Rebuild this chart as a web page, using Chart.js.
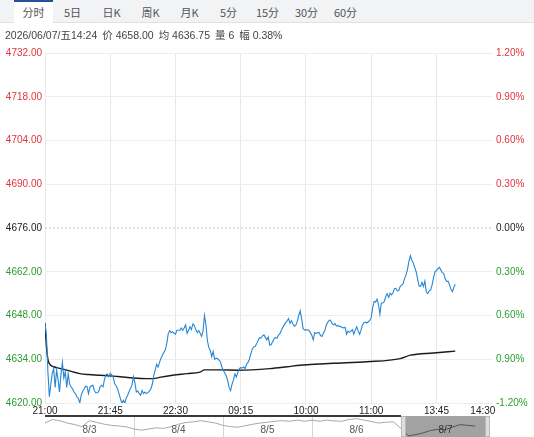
<!DOCTYPE html>
<html>
<head>
<meta charset="utf-8">
<script src="https://cdn.jsdelivr.net/npm/chart.js@4.4.1/dist/chart.umd.min.js"></script>
<style>
  body { margin: 0; width: 534px; height: 437px; overflow: hidden; background: #fff; font-family: "Liberation Sans", "Noto Sans CJK SC", sans-serif; }
  #tabs { position: absolute; left: 0; top: 0; width: 534px; height: 22px; background: #f2f3f5; border-bottom: 1px solid #dfe1e5; z-index: 2; }
  #tabs span { position: absolute; top: 0; width: 39px; height: 22px; line-height: 24px; text-align: center; font-size: 11px; color: #555; font-family: "Noto Sans CJK SC", sans-serif; }
  #tabs span.on { background: #fff; border-top: 2px solid #2a4f9a; height: 21px; line-height: 21px; }
  #info { position: absolute; left: 5px; top: 27px; font-size: 10.5px; color: #444; white-space: nowrap; z-index: 2; font-family: "Liberation Sans", "Noto Sans CJK SC", sans-serif; }
  #info span { margin-right: 5px; }
  #main { position: absolute; left: 0; top: 0; }
  #nav { position: absolute; left: 0; top: 414px; z-index: 3; }
</style>
</head>
<body>
<div id="tabs"></div>
<div id="info"></div>
<canvas id="main" width="534" height="437"></canvas>
<canvas id="nav" width="534" height="23"></canvas>
<script>
// header
const tabNames = ['分时', '5日', '日K', '周K', '月K', '5分', '15分', '30分', '60分'];
const infoParts = ['2026/06/07/五14:24', '价 4658.00', '均 4636.75', '量 6', '幅 0.38%'];

// main chart data (minutes since 21:00, trading time)
const prevClose = 4676;
const priceTicks = [4620, 4634, 4648, 4662, 4676, 4690, 4704, 4718, 4732];
const pctLabels = ['-1.20%', '0.90%', '0.60%', '0.30%', '0.00%', '0.30%', '0.60%', '0.90%', '1.20%'];
const timeTicks = [0, 45, 90, 135, 180, 225, 270, 302];
const timeLabels = ['21:00', '21:45', '22:30', '09:15', '10:00', '11:00', '13:45', '14:30'];
const xMax = 309;

const price = [
    4645.5, 4641.5, 4630, 4622, 4626, 4629.5, 4631, 4625, 4630.5, 4627.5,
    4623.5, 4629, 4633, 4628, 4630, 4625, 4629.4, 4626, 4625.2, 4624.5,
    4623.5, 4623, 4622, 4621.5, 4620, 4622.5, 4623.8, 4624.5, 4625.4, 4625.2,
    4623, 4625, 4625.5, 4625.7, 4624, 4623.3, 4623.3, 4623.6, 4625.2, 4625.7,
    4625.2, 4627.5, 4629, 4629.3, 4628.4, 4629.5, 4629, 4628.4, 4626.2, 4625.5,
    4624.6, 4623, 4621.5, 4619.8, 4620.9, 4620, 4621.5, 4622.5, 4623.7, 4624.6,
    4625.8, 4628.4, 4626.5, 4623.5, 4623.8, 4623, 4622.5, 4624, 4623, 4623.5,
    4623, 4623.3, 4623.8, 4624.5, 4626, 4628.8, 4630.5, 4632.4, 4631.5, 4633,
    4634.3, 4635.3, 4636.2, 4637, 4639.1, 4642.2, 4643.2, 4642.5, 4642.8, 4642.3,
    4642, 4643.3, 4643.3, 4643.3, 4644, 4643.3, 4644, 4645, 4642.3, 4643.3,
    4644.4, 4643.5, 4645.3, 4644.8, 4643.5, 4642.5, 4643.2, 4642.3, 4641.3, 4643,
    4648, 4645, 4640, 4637.7, 4636.8, 4634.8, 4636.5, 4634, 4634.3, 4634.2,
    4633.7, 4633.2, 4631.5, 4630.5, 4629.6, 4628.7, 4627.2, 4625, 4624, 4626,
    4627.4, 4629.3, 4628.3, 4629.8, 4631, 4631.3, 4631.2, 4631.5, 4631, 4632.4,
    4633, 4634, 4635.8, 4637.3, 4638, 4638.1, 4639, 4640, 4640.9, 4640.8,
    4641.5, 4641.8, 4641, 4640.2, 4641.1, 4638.5, 4638.7, 4639.6, 4640.5, 4641,
    4640.7, 4641.7, 4642.2, 4643.2, 4644.2, 4645, 4645.7, 4646.3, 4647, 4645.5,
    4646.3, 4645.3, 4644.6, 4644.9, 4646.1, 4648, 4649.5, 4647, 4643.8, 4643.4,
    4643.4, 4643.4, 4643.3, 4642.6, 4641.7, 4640.2, 4642.5, 4642.3, 4642.5, 4642.6,
    4641.6, 4641.3, 4642.3, 4643.2, 4645, 4645.8, 4646.5, 4646.5, 4645.4, 4645,
    4645.4, 4644.6, 4644.8, 4644.6, 4644.4, 4644.2, 4644, 4644.2, 4642, 4643,
    4642.6, 4643, 4643.5, 4642, 4643.4, 4644.4, 4643, 4642, 4643.3, 4645,
    4645.7, 4645.9, 4645.6, 4646, 4646.4, 4647.3, 4650.5, 4652.5, 4652.3, 4653.2,
    4651.6, 4648.4, 4652, 4652, 4652.5, 4654, 4655, 4653.8, 4655.1, 4654.6,
    4655.3, 4656.6, 4656.7, 4655.9, 4656, 4657.3, 4657.7, 4658.2, 4659.8, 4661,
    4662.7, 4665.3, 4667.1, 4665.7, 4664.8, 4663.4, 4662, 4659.7, 4657.4, 4657.3,
    4658.6, 4657.3, 4659, 4655.5, 4655, 4655.9, 4656.2, 4657.8, 4660.1, 4662,
    4662.4, 4663, 4663.4, 4662.6, 4661.7, 4661.5, 4659.8, 4658.9, 4659, 4657.8,
    4656.4, 4655.6, 4657, 4658
];

const avgMinutes = [0, 1, 2, 3, 6, 10, 15, 24, 30, 38, 47, 52, 61, 70, 75, 79, 88, 98, 107, 110, 120, 133, 155, 167, 176, 183, 199, 222, 245, 252, 268, 283];
const avgPrice = [4645.5, 4638, 4634, 4632.6, 4631.6, 4631.1, 4630.5, 4629.4, 4629.1, 4628.9, 4628.6, 4628.4, 4628, 4627.8, 4627.8, 4628.2, 4628.9, 4629.4, 4629.9, 4630.6, 4630.6, 4630.5, 4631, 4631.6, 4632.1, 4632.3, 4632.7, 4633.2, 4634.2, 4635.3, 4636, 4636.6];

// navigator (5 days, 12 samples per day)
const navDays = ['8/3', '8/4', '8/5', '8/6', '8/7'];
const navPerDay = 12;
const navPrice = [
    4665, 4677, 4673, 4665, 4660, 4653, 4673, 4667, 4661, 4657, 4655, 4652,
    4645, 4641, 4645, 4649, 4647, 4653, 4661, 4667, 4669, 4673, 4669, 4665,
    4657, 4653, 4651, 4656, 4661, 4665, 4668, 4671, 4673, 4671, 4675, 4671,
    4675, 4671, 4675, 4672, 4671, 4677, 4680, 4675, 4670, 4665, 4668, 4669,
    4646, 4622, 4626, 4632, 4640, 4644, 4643, 4652, 4660, 4657, 4655
];

document.getElementById('tabs').innerHTML = tabNames.map(function (t, i) {
    return '<span' + (i === 0 ? ' class="on"' : '') + ' style="left:' + (14 + i * 39) + 'px">' + t + '</span>';
}).join('');
document.getElementById('info').innerHTML = infoParts.map(function (t) { return '<span>' + t + '</span>'; }).join('');

const red = '#e0343c', green = '#2a9d2f';
function tickColor(v) {
    if (v > prevClose) return red;
    if (v < prevClose) return green;
    return '#222';
}

const mainChart = new Chart(document.getElementById('main').getContext('2d'), {
    type: 'line',
    data: {
        datasets: [{
            data: price.map(function (v, i) { return { x: i, y: v }; }),
            borderColor: '#2587d6',
            borderWidth: 1.1,
            pointRadius: 0
        }, {
            data: avgMinutes.map(function (m, i) { return { x: m, y: avgPrice[i] }; }),
            borderColor: '#1b1b1b',
            borderWidth: 1.4,
            pointRadius: 0,
            cubicInterpolationMode: 'monotone'
        }, {
            // previous close reference line
            data: [{ x: 0, y: prevClose }, { x: xMax, y: prevClose }],
            borderColor: '#c9c9c9',
            borderWidth: 1,
            borderDash: [2, 2],
            pointRadius: 0
        }]
    },
    options: {
        responsive: false,
        animation: false,
        layout: { padding: { top: 53, bottom: 20, left: 0, right: 0 } },
        plugins: { legend: { display: false }, tooltip: { enabled: false } },
        scales: {
            x: {
                type: 'linear',
                min: 0,
                max: xMax,
                afterBuildTicks: function (axis) { axis.ticks = timeTicks.map(function (v) { return { value: v }; }); },
                afterFit: function (axis) { axis.height = 14; },
                ticks: {
                    autoSkip: false,
                    maxRotation: 0,
                    padding: 2,
                    color: '#222',
                    font: { family: 'Liberation Sans', size: 10 },
                    callback: function (v, i) { return timeLabels[i]; }
                },
                grid: {
                    drawTicks: false,
                    color: function (ctx) { return ctx.index === timeTicks.length - 1 ? 'rgba(0,0,0,0)' : '#e8e8e8'; }
                },
                border: { display: false }
            },
            y: {
                position: 'left',
                min: 4620,
                max: 4732,
                afterBuildTicks: function (axis) { axis.ticks = priceTicks.map(function (v) { return { value: v }; }); },
                afterFit: function (axis) { axis.width = 45; },
                ticks: {
                    padding: 3,
                    font: { family: 'Liberation Sans', size: 10 },
                    color: function (ctx) { return tickColor(ctx.tick.value); },
                    callback: function (v) { return v.toFixed(2); }
                },
                grid: {
                    drawTicks: false,
                    color: function (ctx) { return ctx.tick && ctx.tick.value === prevClose ? 'rgba(0,0,0,0)' : '#ededed'; }
                },
                border: { display: false }
            },
            y1: {
                position: 'right',
                min: 4620,
                max: 4732,
                afterBuildTicks: function (axis) { axis.ticks = priceTicks.map(function (v) { return { value: v }; }); },
                afterFit: function (axis) { axis.width = 41; },
                ticks: {
                    padding: 3,
                    font: { family: 'Liberation Sans', size: 10 },
                    color: function (ctx) { return tickColor(ctx.tick.value); },
                    callback: function (v, i) { return pctLabels[i]; }
                },
                grid: { display: false, drawTicks: false },
                border: { display: false }
            }
        }
    }
});

// navigator decorations: day separators, selection window, handles, day labels
const selStart = (navDays.length - 1) * navPerDay;
const navDecor = {
    id: 'navDecor',
    beforeDatasetsDraw: function (chart) {
        const ctx = chart.ctx, xs = chart.scales.x, a = chart.chartArea;
        const sx = xs.getPixelForValue(selStart);
        ctx.save();
        ctx.strokeStyle = '#d4d4d4';
        ctx.lineWidth = 1;
        for (let d = 1; d < navDays.length - 1; d++) {
            const px = Math.round(xs.getPixelForValue(d * navPerDay)) + 0.5;
            ctx.beginPath(); ctx.moveTo(px, 2); ctx.lineTo(px, chart.height); ctx.stroke();
        }
        ctx.fillStyle = '#a2a2a2';
        ctx.fillRect(sx, 2, a.right - sx, chart.height - 2);
        ctx.strokeStyle = '#3a3a3a';
        ctx.lineWidth = 2;
        ctx.beginPath(); ctx.moveTo(a.left, 2); ctx.lineTo(sx, 2); ctx.stroke();
        ctx.restore();
    },
    afterDatasetsDraw: function (chart) {
        const ctx = chart.ctx, xs = chart.scales.x, a = chart.chartArea;
        const sx = xs.getPixelForValue(selStart);
        ctx.save();
        ctx.fillStyle = '#dedede';
        ctx.strokeStyle = '#b8b8b8';
        ctx.lineWidth = 1;
        [sx, a.right - 5].forEach(function (hx) {
            ctx.fillRect(hx, 2, 5, chart.height - 2);
            ctx.strokeRect(hx + 0.5, 2.5, 4, chart.height - 3);
        });
        ctx.font = '10px "Liberation Sans"';
        ctx.textAlign = 'center';
        ctx.textBaseline = 'middle';
        navDays.forEach(function (d, i) {
            ctx.fillStyle = i === navDays.length - 1 ? '#333' : '#555';
            ctx.fillText(d, xs.getPixelForValue(i * navPerDay + navPerDay / 2), 16);
        });
        ctx.restore();
    }
};

const navChart = new Chart(document.getElementById('nav').getContext('2d'), {
    type: 'line',
    data: {
        datasets: [{
            data: navPrice.map(function (v, i) { return { x: i, y: v }; }),
            borderColor: '#a8a8a8',
            borderWidth: 1,
            pointRadius: 0,
            segment: {
                borderColor: function (ctx) { return ctx.p0.parsed.x >= selStart ? '#555' : '#a8a8a8'; }
            }
        }]
    },
    options: {
        responsive: false,
        animation: false,
        layout: { padding: { left: 45, right: 44, top: 4, bottom: 0 } },
        plugins: { legend: { display: false }, tooltip: { enabled: false } },
        scales: {
            x: { type: 'linear', display: false, min: 0, max: navDays.length * navPerDay },
            y: { display: false, min: 4618, max: 4682 }
        }
    },
    plugins: [navDecor]
});
</script>
</body>
</html>
